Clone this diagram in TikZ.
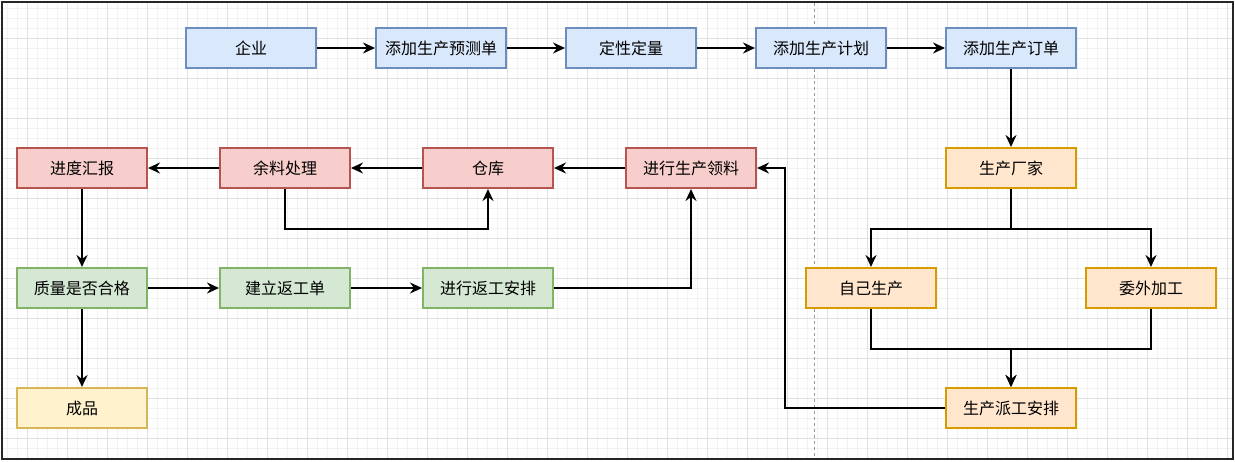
\documentclass[tikz,border=0pt]{standalone}
\usepackage{fontspec}
\newfontfamily\cjk{Noto Sans CJK SC}
\usetikzlibrary{arrows.meta}
\definecolor{bfill}{HTML}{DAE8FC}\definecolor{bdraw}{HTML}{6C8EBF}
\definecolor{rfill}{HTML}{F8CECC}\definecolor{rdraw}{HTML}{B85450}
\definecolor{gfill}{HTML}{D5E8D4}\definecolor{gdraw}{HTML}{82B366}
\definecolor{ofill}{HTML}{FFE6CC}\definecolor{odraw}{HTML}{D79B00}
\definecolor{yfill}{HTML}{FFF2CC}\definecolor{ydraw}{HTML}{D6B656}
\definecolor{minorg}{HTML}{F2F2F2}\definecolor{majorg}{HTML}{E0E0E0}
\tikzset{
  box/.style={draw, line width=2pt, minimum width=130pt, minimum height=40pt, inner sep=0pt, font=\cjk\fontsize{16}{18}\selectfont},
  bluebox/.style={box, fill=bfill, draw=bdraw},
  redbox/.style={box, fill=rfill, draw=rdraw},
  greenbox/.style={box, fill=gfill, draw=gdraw},
  orangebox/.style={box, fill=ofill, draw=odraw},
  yellowbox/.style={box, fill=yfill, draw=ydraw},
  arr/.style={-{Stealth[length=12pt,width=11pt,inset=4pt]}, line width=2.2pt, black},
}
\begin{document}
\begin{tikzpicture}[x=1pt,y=-1pt]
\useasboundingbox (0,0) rectangle (1235,461);
% grid
\foreach \x in {7,17,...,1227} \draw[minorg, line width=0.8pt] (\x,3) -- (\x,458);
\foreach \y in {8,18,...,455} \draw[minorg, line width=0.8pt] (3,\y) -- (1232,\y);
\foreach \x in {27,67,...,1227} \draw[majorg, line width=0.8pt] (\x,3) -- (\x,458);
\foreach \y in {38,78,...,455} \draw[majorg, line width=0.8pt] (3,\y) -- (1232,\y);
\draw[black!40, line width=0.8pt, dash pattern=on 3pt off 3pt] (814.5,3) -- (814.5,458);
\draw[black!85, line width=2pt] (2,2) rectangle (1233,459);
% nodes
\node[bluebox] (qy) at (251,48) {企业};
\node[bluebox] (yc) at (441,48) {添加生产预测单};
\node[bluebox] (dx) at (631,48) {定性定量};
\node[bluebox] (jh) at (821,48) {添加生产计划};
\node[bluebox] (dd) at (1011,48) {添加生产订单};
\node[redbox] (jd) at (82,168) {进度汇报};
\node[redbox] (yl) at (285,168) {余料处理};
\node[redbox] (ck) at (488,168) {仓库};
\node[redbox] (ll) at (691,168) {进行生产领料};
\node[orangebox] (cj) at (1011,168) {生产厂家};
\node[greenbox] (zl) at (82,288) {质量是否合格};
\node[greenbox] (fg) at (285,288) {建立返工单};
\node[greenbox] (fa) at (488,288) {进行返工安排};
\node[orangebox] (zj) at (871,288) {自己生产};
\node[orangebox] (ww) at (1151,288) {委外加工};
\node[yellowbox] (cp) at (82,408) {成品};
\node[orangebox] (pg) at (1011,408) {生产派工安排};
% edges
\draw[arr] (qy) -- (yc);
\draw[arr] (yc) -- (dx);
\draw[arr] (dx) -- (jh);
\draw[arr] (jh) -- (dd);
\draw[arr] (dd) -- (cj);
\draw[arr] (cj.south) -- ++(0,40) -| (zj.north);
\draw[arr] (cj.south) -- ++(0,40) -| (ww.north);
\draw[arr] (zj.south) -- ++(0,40) -| (pg.north);
\draw[arr] (ww.south) -- ++(0,40) -| (pg.north);
\draw[arr] (pg.west) -- ++(-160,0) |- (ll.east);
\draw[arr] (ll) -- (ck);
\draw[arr] (ck) -- (yl);
\draw[arr] (yl.south) -- ++(0,40) -| (ck.south);
\draw[arr] (yl) -- (jd);
\draw[arr] (jd) -- (zl);
\draw[arr] (zl) -- (fg);
\draw[arr] (fg) -- (fa);
\draw[arr] (fa.east) -| (ll.south);
\draw[arr] (zl) -- (cp);
\end{tikzpicture}
\end{document}
